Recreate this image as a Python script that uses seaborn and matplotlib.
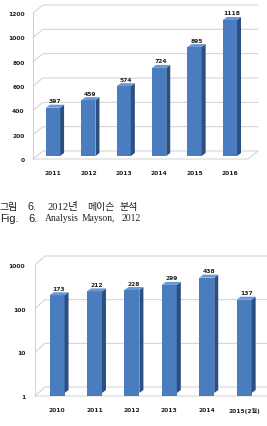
import numpy as np
import pandas as pd
import matplotlib
matplotlib.use("Agg")
import matplotlib.pyplot as plt
import seaborn as sns
from matplotlib.patches import Polygon
from matplotlib.lines import Line2D
from matplotlib.transforms import IdentityTransform, ScaledTranslation

# ---------------- data ----------------
years_top = ["2011", "2012", "2013", "2014", "2015", "2016"]
values_top = [397, 459, 574, 724, 895, 1118]
ticks_top = [0, 200, 400, 600, 800, 1000, 1200]

years_bot = ["2010", "2011", "2012", "2013", "2014", "2015(2월)"]
values_bot = [173, 212, 228, 299, 438, 137]
ticks_bot = [1, 10, 100, 1000]

caption_kr_words = ["그림", "6.", "2012년", "메이슨", "분석"]
caption_en_words = ["Fig.", "6.", "Analysis", "Mayson,", "2012"]

# ---------------- style ----------------
sns.set_theme(style="white")
plt.rcParams["font.family"] = ["DejaVu Sans", "Noto Sans CJK KR"]

FRONT = "#4a7cc0"
SIDE = "#2c4f82"
TOP = "#6a98d6"
GRID = "#d0d0d0"
DPI = 100

fig = plt.figure(figsize=(2.67, 4.27), dpi=DPI)
W, H = 267, 427


def axes_at(left, right, top, bottom):
    return fig.add_axes([left / W, (H - bottom) / H, (right - left) / W, (bottom - top) / H])


def px(ax, x, y):
    return ax.transData.transform((x, y))


def add_line(ax, xs, ys):
    ln = Line2D(xs, ys, transform=IdentityTransform(), color=GRID, lw=0.7, zorder=1)
    ax.add_line(ln)
    ln.set_clip_on(False)


def add_poly(ax, pts, color):
    pg = Polygon(pts, closed=True, transform=IdentityTransform(), facecolor=color,
                 edgecolor="none", zorder=4)
    ax.add_patch(pg)
    pg.set_clip_on(False)


def draw_3d(ax, df, xcol, ycol, xlim, ylim, ticks, wall_dx, wall_dy, bar_dx, bar_dy,
            bar_off, xpad, ypad):
    sns.barplot(data=df, x=xcol, y=ycol, ax=ax, color=FRONT, width=0.4,
                saturation=1, edgecolor="none", zorder=3)
    ax.set_xlim(*xlim)
    ax.set_ylim(*ylim)
    ax.minorticks_off()
    ax.set_xlabel("")
    ax.set_ylabel("")
    for s in ax.spines.values():
        s.set_visible(False)
    ax.set_yticks(ticks)
    ax.set_yticklabels([str(t) for t in ticks])
    ax.tick_params(axis="both", length=0, labelsize=4.3)
    ax.tick_params(axis="x", pad=xpad)
    ax.tick_params(axis="y", pad=ypad)
    for lab in ax.get_xticklabels() + ax.get_yticklabels():
        lab.set_fontweight("bold")
        lab.set_color("#222222")
        lab.set_family(["DejaVu Sans", "Noto Sans CJK KR"])
    ax.grid(False)
    ax.patch.set_alpha(0)

    x0, x1 = xlim
    y0, y1 = ylim
    # wall gridlines with side-wall diagonals
    for t in ticks:
        p0 = px(ax, x0, t)
        p1 = px(ax, x1, t)
        add_line(ax, [p0[0], p0[0] + wall_dx, p1[0] + wall_dx],
                 [p0[1], p0[1] + wall_dy, p1[1] + wall_dy])
    # left axis line
    pb = px(ax, x0, y0)
    pt = px(ax, x0, y1)
    add_line(ax, [pb[0], pt[0]], [pb[1], pt[1]])
    # floor front edge
    pr = px(ax, x1, y0)
    add_line(ax, [pb[0], pr[0], pr[0] + wall_dx], [pb[1], pr[1], pr[1] + wall_dy])

    # 3D bar faces
    off = ScaledTranslation(bar_off[0] / DPI, bar_off[1] / DPI, fig.dpi_scale_trans)
    offv = np.array(bar_off, dtype=float)
    for patch, val in zip(ax.patches, df[ycol]):
        bx, by = patch.get_x(), patch.get_y()
        bw, bh = patch.get_width(), patch.get_height()
        patch.set_transform(ax.transData + off)
        base = max(by, y0)
        a = px(ax, bx, base) + offv
        b = px(ax, bx + bw, by + bh) + offv
        add_poly(ax, [[b[0], a[1]], [b[0] + bar_dx, a[1] + bar_dy],
                      [b[0] + bar_dx, b[1] + bar_dy], [b[0], b[1]]], SIDE)
        add_poly(ax, [[a[0], b[1]], [a[0] + bar_dx, b[1] + bar_dy],
                      [b[0] + bar_dx, b[1] + bar_dy], [b[0], b[1]]], TOP)
        cx = (a[0] + b[0]) / 2 + bar_dx / 2
        fig.text(cx / W, (b[1] + bar_dy + 1.5) / H, str(val), ha="center", va="bottom",
                 fontsize=4.3, fontweight="bold", color="#222222")


# ---------------- top chart ----------------
df_top = pd.DataFrame({"year": years_top, "count": values_top})
ax1 = axes_at(33, 248, 14, 160)
draw_3d(ax1, df_top, "year", "count", (-0.565, 5.51), (0, 1200), ticks_top,
        10, 8, 4, 3, (0, 3), 8, 6)

# ---------------- caption ----------------
kr_x = [0, 28, 48, 87, 120]
for word, x in zip(caption_kr_words, kr_x):
    if word == "6.":
        fam, fs = ["Liberation Sans"], 7.8
    elif word.startswith("2012"):
        fam, fs = ["Liberation Serif", "Noto Sans CJK KR"], 7.6
    else:
        fam, fs = ["Noto Sans CJK KR"], 7.2
    fig.text(x / W, (H - 207) / H, word, fontsize=fs, va="center", ha="left",
             family=fam, color="#222222")
en_x = [0, 28, 45, 82, 122]
for i, (word, x) in enumerate(zip(caption_en_words, en_x)):
    fam = ["Liberation Sans"] if i < 2 else ["Liberation Serif"]
    fs = 8.0 if i < 2 else 6.9
    fig.text(x / W, (H - 219) / H, word, fontsize=fs, va="center", ha="left",
             family=fam, color="#222222")

# ---------------- bottom chart ----------------
df_bot = pd.DataFrame({"year": years_bot, "count": values_bot})
ax2 = axes_at(35, 267, 266, 397)
ax2.set_yscale("log")
draw_3d(ax2, df_bot, "year", "count", (-0.59, 5.61), (1, 1000), ticks_bot,
        10, 9, 4, 3, (0, 3), 8, 7)

fig.savefig("out.png", dpi=DPI, facecolor="white")
